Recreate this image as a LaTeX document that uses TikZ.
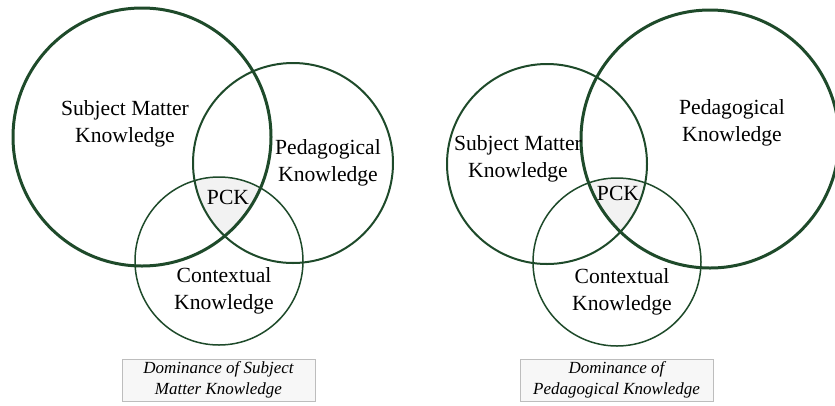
\documentclass[tikz,border=0pt]{standalone}
\usepackage{fontspec}
\setmainfont{Liberation Serif}
\definecolor{dkgreen}{HTML}{1E4A2A}
\definecolor{pckfill}{HTML}{F2F2F2}
\definecolor{capfill}{HTML}{F7F7F7}
\definecolor{capline}{HTML}{BDBDBD}
\begin{document}
\begin{tikzpicture}[x=1pt,y=-1pt,
  ring/.style={circle,draw=dkgreen,inner sep=0pt},
  thickring/.style={ring,line width=3pt},
  midring/.style={ring,line width=2pt},
  thinring/.style={ring,line width=1.5pt},
  lbl/.style={align=center,font=\fontsize{21.6}{27}\selectfont,inner sep=0pt},
  caption/.style={draw=capline,fill=capfill,line width=0.8pt,minimum width=193pt,minimum height=42pt,align=center,inner sep=0pt,font=\fontsize{17}{21}\selectfont\itshape}]
\useasboundingbox (0,0) rectangle (835,405);
% ---------- left panel ----------
\coordinate (Lsc) at (142,137);
\coordinate (Lpc) at (293,163);
\coordinate (Lcc) at (219,261);
\begin{scope}
  \clip (Lsc) circle (129);
  \clip (Lpc) circle (100);
  \fill[pckfill] (Lcc) circle (84);
\end{scope}
\node[thinring,minimum size=168pt] (Lctx) at (Lcc) {};
\node[midring,minimum size=200pt] (Lped) at (Lpc) {};
\node[thickring,minimum size=258pt] (Lsmk) at (Lsc) {};
\node[lbl] (Lsmkt) at (125,124) {Subject Matter\\Knowledge};
\node[lbl] (Lpedt) at (328,163) {Pedagogical\\Knowledge};
\node[lbl] (Lpck) at (228,197) {PCK};
\node[lbl] (Lctxt) at (224,291) {Contextual\\Knowledge};
\node[caption] (Lcap) at (218.5,380) {Dominance of Subject\\Matter Knowledge};
% ---------- right panel ----------
\coordinate (Rsc) at (547,164);
\coordinate (Rpc) at (710,139);
\coordinate (Rcc) at (617,262);
\begin{scope}
  \clip (Rsc) circle (100);
  \clip (Rpc) circle (129);
  \fill[pckfill] (Rcc) circle (84);
\end{scope}
\node[thinring,minimum size=168pt] (Rctx) at (Rcc) {};
\node[midring,minimum size=200pt] (Rsmk) at (Rsc) {};
\node[thickring,minimum size=258pt] (Rped) at (Rpc) {};
\node[lbl] (Rsmkt) at (518,159) {Subject Matter\\Knowledge};
\node[lbl] (Rpedt) at (732,123) {Pedagogical\\Knowledge};
\node[lbl] (Rpck) at (618,193) {PCK};
\node[lbl] (Rctxt) at (622,292) {Contextual\\Knowledge};
\node[caption] (Rcap) at (616.5,380) {Dominance of\\Pedagogical Knowledge};
\end{tikzpicture}
\end{document}
